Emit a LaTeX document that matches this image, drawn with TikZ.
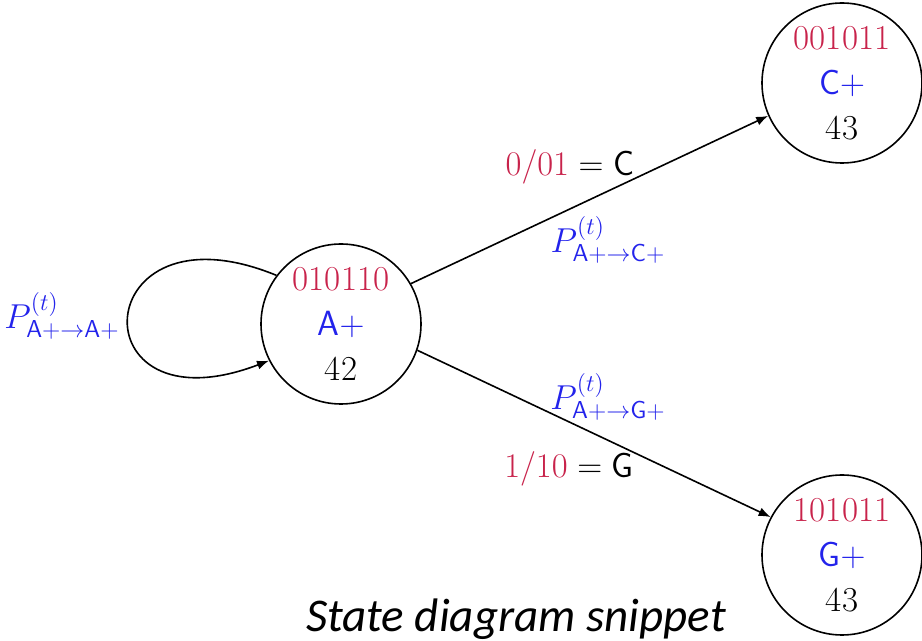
\documentclass[tikz,border=0pt]{standalone}
\usepackage{fontspec}
\newfontfamily\captionfont{Carlito}
\usetikzlibrary{arrows.meta}
\definecolor{sred}{RGB}{200,35,75}
\definecolor{sblue}{RGB}{35,35,235}
\begin{document}
\begin{tikzpicture}[x=0.5pt,y=-0.5pt,
  state/.style={circle,draw,line width=0.8pt,minimum size=80pt,inner sep=0pt,align=center,
    font=\fontsize{17.5}{22.5}\selectfont},
  edge/.style={draw,line width=0.8pt,-{Latex[length=6pt,width=4.5pt]}},
  lbl/.style={font=\fontsize{17.5}{20}\selectfont,inner sep=0pt}]
\useasboundingbox (0,0) rectangle (922,641);
\node[state] (A) at (341,324) {\textcolor{sred}{010110}\\ \textcolor{sblue}{$\mathsf{A}+$}\\ 42};
\node[state] (C) at (842,83) {\textcolor{sred}{001011}\\ \textcolor{sblue}{$\mathsf{C}+$}\\ 43};
\node[state] (G) at (842,555) {\textcolor{sred}{101011}\\ \textcolor{sblue}{$\mathsf{G}+$}\\ 43};
\draw[edge] (A.143) .. controls +(-190,-78) and +(-194,74) .. (A.207);
\draw[edge] (A.30) -- (C.204);
\draw[edge] (A.-19) -- (G.152);
\node[lbl,text=sblue] (pAA) at (62,316) {$P^{(t)}_{\mathsf{A}+\to\mathsf{A}+}$};
\node[lbl] (lC) at (570,167) {$\textcolor{sred}{0/01}=\mathsf{C}$};
\node[lbl,text=sblue] (pAC) at (608,240) {$P^{(t)}_{\mathsf{A}+\to\mathsf{C}+}$};
\node[lbl,text=sblue] (pAG) at (608,397) {$P^{(t)}_{\mathsf{A}+\to\mathsf{G}+}$};
\node[lbl] (lG) at (569,469) {$\textcolor{sred}{1/10}=\mathsf{G}$};
\node[inner sep=0pt,font=\captionfont\itshape\fontsize{23.5}{26}\selectfont] (cap) at (516,619) {State diagram snippet};
\end{tikzpicture}
\end{document}
